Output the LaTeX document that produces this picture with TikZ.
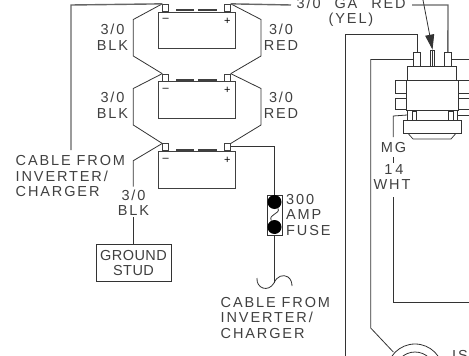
\documentclass[tikz,border=0pt]{standalone}
\usepackage{fontspec}
\setmainfont[LetterSpace=13]{Liberation Sans}
\usetikzlibrary{positioning,arrows.meta}
\tikzset{battery node/.style={draw=black!75,line width=0.8pt,minimum width=77pt,minimum height=36.5pt,inner sep=0pt},
  post node/.style={draw=black!75,line width=0.7pt,minimum width=6pt,minimum height=7pt,inner sep=0pt},
  cell node/.style={fill=black!75,minimum width=18.5pt,minimum height=2.2pt,inner sep=0pt},
  sign node/.style={font=\fontsize{11}{11}\selectfont,inner sep=0pt},
  label node/.style={font=\fontsize{14.5}{15.5}\selectfont,text=black!75,inner sep=0pt,align=center},
  body node/.style={draw=black!80,line width=0.7pt,inner sep=0pt,fill=white},
  wire/.style={draw=black!80,line width=0.8pt},
  thick wire/.style={draw=black!60,line width=1.4pt}}

\begin{document}
\begin{tikzpicture}[x=1pt,y=-1pt]
\useasboundingbox (0,0) rectangle (469,356);
\clip (0,0) rectangle (469,356);

  % batteries
  \node[battery node] (b1) at (196.5,30.2) {};
  \node[battery node] (b2) [below=32.5pt of b1] {};
  \node[battery node] (b3) [below=32.5pt of b2] {};

  \foreach \b in {b1,b2,b3} {
    \node[post node,above=0pt of \b.north west,xshift=8pt] (\b neg) {};
    \node[post node,above=0pt of \b.north east,xshift=-8pt] (\b pos) {};
    \node[cell node,above=0pt of \b.north,xshift=-11.5pt] (\b cella) {};
    \node[cell node,above=0pt of \b.north,xshift=11pt] (\b cellb) {};
    \node[sign node,below=7pt of \b neg.south] (\b minus) {–};
    \node[sign node,below=6pt of \b pos.south] (\b plus) {+};
  }

  % bends of the links
  \coordinate (l1a) at (133.3,19.5);
  \coordinate (l1b) at (133.3,56);
  \coordinate (l2a) at (133.3,88.5);
  \coordinate (l2b) at (133.3,125);
  \coordinate (l3a) at (133.3,160.7);
  \coordinate (l3b) at (133.3,186.5);
  \coordinate (r1a) at (261,19.5);
  \coordinate (r1b) at (261,56);
  \coordinate (r2a) at (261,88.5);
  \coordinate (r2b) at (261,125);

  \draw[wire] (b1neg.north west) -- (l1a) -- (l1b) -- (b2neg.north west);
  \draw[wire] (b2neg.north west) -- (l2a) -- (l2b) -- (b3neg.north west);
  \draw[wire] (b3neg.north west) -- (l3a) -- (l3b);
  \draw[wire] (b1pos.north east) -- (r1a) -- (r1b) -- (b2pos.north east);
  \draw[wire] (b2pos.north east) -- (r2a) -- (r2b) -- (b3pos.north east);

  \node[label node] (blk1) at (112.5,37) {3/0\\BLK};
  \node[label node] (blk2) at (112.5,105) {3/0\\BLK};
  \node[label node] (red1) at (281,37) {3/0\\RED};
  \node[label node] (red2) at (281,105) {3/0\\RED};
  \node[label node] (blk3) at (133.5,202.5) {3/0\\BLK};
  \node[label node,align=left,anchor=west] (cablea) at (15.5,176.5) {CABLE FROM\\ INVERTER/\\CHARGER};

  % ground stud
  \node[body node,minimum width=75pt,minimum height=37.7pt,label node,draw=black!80] (stud) at (133.5,262.8) {\addfontfeature{LetterSpace=3}GROUND\\\addfontfeature{LetterSpace=3}STUD};
  \coordinate (s0) at (133.3,217);
  \draw[wire] (s0) -- (s0 |- stud.north);

  % inverter cable left
  \coordinate (c1) at (71,150);
  \coordinate (c2) at (71,5);
  \draw[thick wire] (c1) -- (c2) -- (b1neg.north west);

  % fuse
  \node[body node,minimum width=15pt,minimum height=40pt,fill=none] (fuse) at (274.5,215) {};
  \node[circle,fill=black,minimum size=14pt,inner sep=0pt] (f1) at (274.5,202) {};
  \node[circle,fill=black,minimum size=14pt,inner sep=0pt] (f2) at (274.5,227) {};
  \draw[wire] (f1) .. controls (281,214) and (268,214) .. (f2);
  \node[label node,align=left,anchor=west] (fuselabel) at (286,215) {300\\AMP\\FUSE};
  \coordinate (p1) at (274,146);
  \coordinate (p2) at (274,283);
  \draw[wire] (b3pos.south east |- p1) -- (p1) -- (fuse.north -| p1);
  \draw[wire] (fuse.south -| p2) -- (p2);
  \draw[wire] (257,278) .. controls (256,288) and (268,293) .. (p2)
     .. controls (277,276) and (283,274) .. (288,277) .. controls (291,279) and (292,283) .. (292,286);
  \node[label node,align=left,anchor=west] (cableb) at (220.5,318) {CABLE FROM\\ INVERTER/\\CHARGER};

  % solenoid
  \node[body node,minimum width=49pt,minimum height=14pt] (upper) at (432.2,73) {};
  \node[body node,minimum width=51.5pt,minimum height=30pt] (middle) at (432.5,95) {};
  \node[body node,minimum width=49.5pt,minimum height=10pt] (lower) at (432.3,115) {};
  \node[body node,minimum width=11.5pt,minimum height=13pt] (tabl1) at (401,86.7) {};
  \node[body node,minimum width=11.5pt,minimum height=11pt] (tabl2) at (401,103.8) {};
  \node[body node,minimum width=14pt,minimum height=13pt] (tabr1) at (465,86.7) {};
  \node[body node,minimum width=14pt,minimum height=11pt] (tabr2) at (465,103.8) {};
  \node[body node,minimum width=4.5pt,minimum height=9pt] (stuba) at (414.2,116) {};
  \node[body node,minimum width=4.5pt,minimum height=9pt] (stubb) at (450.8,116) {};
  \node[body node,minimum width=58pt,minimum height=13pt] (plate) at (432,126.8) {};
  \coordinate (k1) at (408,133.3);
  \coordinate (k2) at (413,139);
  \coordinate (k3) at (451,139);
  \coordinate (k4) at (456,133.3);
  \draw[wire,line width=0.7pt] (k1) -- (k2) -- (k3) -- (k4);
  \node[body node,minimum width=7.4pt,minimum height=13.5pt] (terma) at (417,59.3) {};
  \node[body node,minimum width=4.4pt,minimum height=16pt] (termb) at (432.5,58) {};
  \draw[wire] (termb.north) -- (termb.south);
  \node[body node,minimum width=6.4pt,minimum height=13.5pt] (termc) at (447.9,59.3) {};

  % red cable and pointer
  \node[label node,anchor=west] (red) at (296.5,3.5) {3/0\hspace{8pt} GA\hspace{8pt} RED};
  \node[label node] (yel) at (351,20) {(YEL)};
  \coordinate (t0) at (412,5);
  \coordinate (t1) at (448,5);
  \coordinate (t2) at (291,5);
  \draw[thick wire] (b1pos.north east) -- (t2);
  \draw[thick wire] (t0) -- (t1) -- (termc.north);
  \coordinate (a0) at (423,0);
  \draw[wire,-{Triangle[length=15pt,width=9pt]}] (a0) -- (termb.north);

  % control wires
  \coordinate (w1) at (345.7,34);
  \coordinate (w2) at (345.7,356);
  \draw[wire] (w2) -- (w1) -- (w1 -| terma.north) -- (terma.north);
  \coordinate (w3) at (370.7,59.5);
  \coordinate (w4) at (370.7,328);
  \coordinate (w5) at (393.3,352);
  \coordinate (w6) at (469,59.5);
  \draw[wire] (terma.west |- w3) -- (w3) -- (w4) -- (w5);
  \draw[wire] (termc.east |- w3) -- (w6);
  \coordinate (m1) at (393.3,116);
  \coordinate (m2) at (393.3,137);
  \coordinate (m7) at (469,115);
  \draw[wire] (lower.west) -- (m1) -- (m2);
  \draw[wire] (lower.east) -- (m7);
  \node[label node] (mg) at (393.5,148) {MG};
  \coordinate (m3) at (393.3,157);
  \coordinate (m4) at (393.3,163);
  \draw[wire] (m3) -- (m4);
  \node[label node] (gauge) at (394,170) {1\hspace{3pt}4};
  \node[label node] (wht) at (392,184.5) {WHT};
  \coordinate (m5) at (393.3,197);
  \coordinate (m6) at (393.3,302.7);
  \coordinate (m8) at (469,302.7);
  \draw[wire] (m5) -- (m6) -- (m8);

  % ignition switch
  \draw[wire] (415,372) circle (28);
  \draw[wire] (415,372) circle (20);
  \node[label node,anchor=west] (is) at (452,356) {IS};
\end{tikzpicture}
\end{document}
